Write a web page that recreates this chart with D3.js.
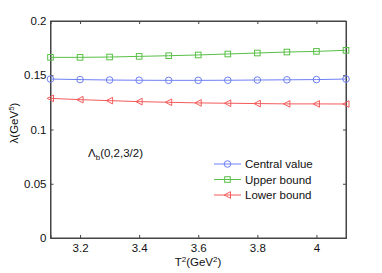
<!DOCTYPE html>
<html><head><meta charset="utf-8">
<script src="https://cdn.jsdelivr.net/npm/d3@7"></script>
<style>body{margin:0;background:#fff}svg{display:block}text{font-family:"Liberation Sans",Arial,sans-serif}</style>
</head><body><svg id="c" width="382" height="273"></svg>
<script>
const T2 = [3.1,3.2,3.3,3.4,3.5,3.6,3.7,3.8,3.9,4.0,4.1];
const central = [0.1465,0.1460,0.1456,0.1454,0.1453,0.1453,0.1454,0.1456,0.1458,0.1460,0.1465];
const upper = [0.1665,0.1665,0.1668,0.1674,0.1680,0.1687,0.1696,0.1705,0.1714,0.1720,0.1730];
const lower = [0.1287,0.1275,0.1266,0.1257,0.1251,0.1245,0.1242,0.1239,0.1236,0.1236,0.1235];
const xTicks = [3.2,3.4,3.6,3.8,4.0];
const yTicks = [0,0.05,0.1,0.15,0.2];
const seriesNames = ["Central value","Upper bound","Lower bound"];
const colors = ["#6d80f5","#58c046","#f55a5a"];

const svg = d3.select("#c");
const x = d3.scaleLinear().domain([3.1,4.1]).range([50.5,346]);
const y = d3.scaleLinear().domain([0,0.2]).range([238,21]);
const axisColor = "#444";

svg.append("rect").attr("x",x(3.1)).attr("y",y(0.2)).attr("width",x(4.1)-x(3.1)).attr("height",y(0)-y(0.2))
  .attr("fill","#fff").attr("stroke",axisColor).attr("stroke-width",1);

const fmt = d=> String(d);
const gx = svg.append("g").attr("transform",`translate(0,${y(0)})`)
  .call(d3.axisBottom(x).tickValues(xTicks).tickSize(-3).tickPadding(6).tickFormat(fmt));
const gxt = svg.append("g").attr("transform",`translate(0,${y(0.2)})`)
  .call(d3.axisTop(x).tickValues(xTicks).tickSize(-3).tickFormat(""));
const gy = svg.append("g").attr("transform",`translate(${x(3.1)},0)`)
  .call(d3.axisLeft(y).tickValues(yTicks).tickSize(-3).tickPadding(4).tickFormat(fmt));
const gyr = svg.append("g").attr("transform",`translate(${x(4.1)},0)`)
  .call(d3.axisRight(y).tickValues(yTicks).tickSize(-3).tickFormat(""));
[gx,gxt,gy,gyr].forEach(g=>{
  g.select(".domain").attr("stroke",axisColor);
  g.selectAll(".tick line").attr("stroke",axisColor);
  g.selectAll("text").attr("font-size",11.5).attr("fill","#111").attr("font-family","Liberation Sans, Arial, sans-serif");
});

const data = [central, upper, lower];
const line = d3.line().x((d,i)=>x(T2[i])).y(d=>y(d));
function marker(g, k, cx, cy, col){
  if(k===0) g.append("circle").attr("cx",cx).attr("cy",cy).attr("r",3.3).attr("fill","none").attr("stroke",col);
  else if(k===1) g.append("rect").attr("x",cx-2.8).attr("y",cy-2.8).attr("width",5.6).attr("height",5.6).attr("fill","none").attr("stroke",col);
  else g.append("path").attr("d",`M${cx-3.3},${cy}L${cx+3},${cy-3.3}L${cx+3},${cy+3.3}Z`).attr("fill","none").attr("stroke",col);
}
data.forEach((s,k)=>{
  const g = svg.append("g");
  g.append("path").datum(s).attr("d",line).attr("fill","none").attr("stroke",colors[k]).attr("stroke-width",1);
  s.forEach((v,i)=>marker(g,k,x(T2[i]),y(v),colors[k]));
});

const lg = svg.append("g");
seriesNames.forEach((n,k)=>{
  const ly = 164 + k*15.5;
  lg.append("line").attr("x1",214).attr("x2",241).attr("y1",ly).attr("y2",ly).attr("stroke",colors[k]);
  marker(lg,k,227.5,ly,colors[k]);
  lg.append("text").attr("x",245).attr("y",ly+4).attr("font-size",11.5).attr("fill","#111").text(n);
});

const ann = svg.append("text").attr("x",88).attr("y",157).attr("font-size",11.5).attr("fill","#111");
ann.append("tspan").text("Λ");
ann.append("tspan").attr("font-size",8).attr("dy",3).text("b");
ann.append("tspan").attr("dy",-3).text("(0,2,3/2)");

const xl = svg.append("text").attr("x",198).attr("y",266).attr("text-anchor","middle").attr("font-size",11.5).attr("fill","#111");
xl.append("tspan").text("T");
xl.append("tspan").attr("font-size",8).attr("dy",-4).text("2");
xl.append("tspan").attr("dy",4).text("(GeV");
xl.append("tspan").attr("font-size",8).attr("dy",-4).text("2");
xl.append("tspan").attr("dy",4).text(")");

const yl = svg.append("text").attr("transform","translate(18,123) rotate(-90)").attr("text-anchor","middle").attr("font-size",11.5).attr("fill","#111");
yl.append("tspan").text("λ(GeV");
yl.append("tspan").attr("font-size",8).attr("dy",-4).text("5");
yl.append("tspan").attr("dy",4).text(")");
</script></body></html>
